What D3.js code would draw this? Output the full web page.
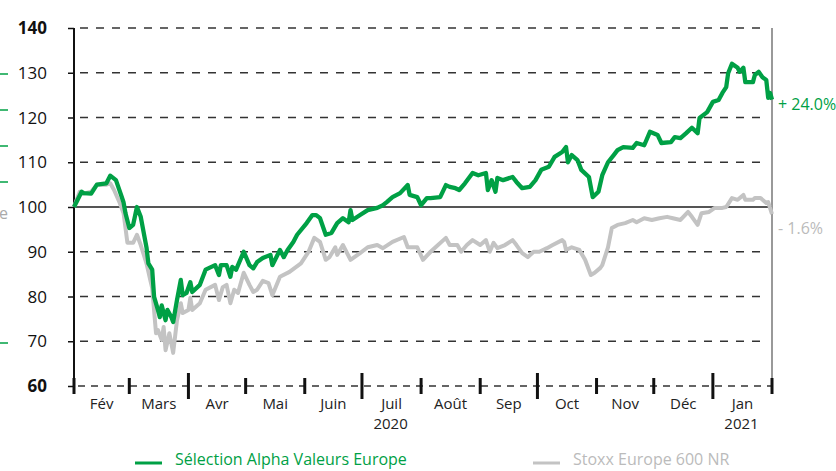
<!DOCTYPE html>
<html>
<head>
<meta charset="utf-8">
<script src="https://cdn.jsdelivr.net/npm/d3@7"></script>
<style>
  body { margin: 0; background: #fff; }
  svg { display: block; font-family: "Open Sans", sans-serif; }
</style>
</head>
<body>
<svg id="chart" width="836" height="471"></svg>
<script>
// Sélection Alpha Valeurs Europe, base 100
var selection = [
  ["2020-02-01",100],["2020-02-05",103.4],["2020-02-06",103.1],["2020-02-10",103],["2020-02-13",105],
  ["2020-02-18",105.3],["2020-02-20",107],["2020-02-23",106],["2020-02-26",102.3],["2020-02-27",101],
  ["2020-02-28",98.6],["2020-03-01",95.3],["2020-03-03",96],["2020-03-05",100],["2020-03-07",97.8],
  ["2020-03-10",91],["2020-03-11",87.4],["2020-03-13",86],["2020-03-14",79.9],["2020-03-16",77],
  ["2020-03-17",75.4],["2020-03-18",78],["2020-03-20",74.7],["2020-03-21",77],["2020-03-23",75.4],
  ["2020-03-24",74.3],["2020-03-26",79.2],["2020-03-28",83.7],["2020-03-29",80.3],["2020-03-31",80.8],
  ["2020-04-02",83.2],["2020-04-03",81],["2020-04-07",82.6],["2020-04-10",86],["2020-04-15",87],
  ["2020-04-17",84.8],["2020-04-18",87],["2020-04-21",87],["2020-04-23",84.4],["2020-04-24",86.6],
  ["2020-04-26",86],["2020-04-30",90],["2020-05-03",87],["2020-05-05",86.3],["2020-05-07",87.7],
  ["2020-05-10",88.6],["2020-05-14",89.3],["2020-05-15",87],["2020-05-19",90.4],["2020-05-21",88.8],
  ["2020-05-23",90.4],["2020-05-26",92.2],["2020-05-28",93.8],["2020-06-02",96.4],["2020-06-05",98.2],
  ["2020-06-07",98.2],["2020-06-09",97.5],["2020-06-12",93.8],["2020-06-15",94.2],["2020-06-18",96.4],
  ["2020-06-21",97.5],["2020-06-24",96.6],["2020-06-25",99.3],["2020-06-26",97.1],["2020-06-30",98.2],
  ["2020-07-04",99.3],["2020-07-09",99.8],["2020-07-12",100.4],["2020-07-14",101.1],["2020-07-17",102.2],
  ["2020-07-21",103.1],["2020-07-25",104.9],["2020-07-26",102.7],["2020-07-30",102.2],["2020-08-01",100.4],
  ["2020-08-04",102],["2020-08-06",102],["2020-08-11",102.2],["2020-08-14",104.9],["2020-08-16",104.5],
  ["2020-08-19",104.2],["2020-08-21",103.8],["2020-08-24",105.3],["2020-08-28",107.6],["2020-08-31",107.1],
  ["2020-09-04",107.6],["2020-09-05",103.8],["2020-09-07",106],["2020-09-09",103.4],["2020-09-10",106.5],
  ["2020-09-13",106],["2020-09-18",106.7],["2020-09-20",105.6],["2020-09-23",104.2],["2020-09-27",104.5],
  ["2020-09-30",106],["2020-10-03",108.3],["2020-10-07",109],["2020-10-10",111.2],["2020-10-14",112.3],
  ["2020-10-16",113.4],["2020-10-17",110],["2020-10-19",111.6],["2020-10-22",110.5],["2020-10-24",108.3],
  ["2020-10-28",106.7],["2020-10-30",102.2],["2020-11-02",103.4],["2020-11-04",107.1],["2020-11-07",110],
  ["2020-11-10",111.6],["2020-11-12",112.7],["2020-11-15",113.4],["2020-11-20",113.2],["2020-11-22",114.3],
  ["2020-11-26",113.8],["2020-11-29",116.8],["2020-12-03",116.1],["2020-12-05",114.3],["2020-12-10",114.5],
  ["2020-12-12",115.6],["2020-12-15",115.4],["2020-12-18",116.5],["2020-12-21",117.7],["2020-12-24",116.5],
  ["2020-12-25",119.9],["2020-12-29",121.2],["2021-01-01",123.5],["2021-01-04",123.9],["2021-01-06",125.5],
  ["2021-01-08",126.8],["2021-01-09",129.9],["2021-01-11",132],["2021-01-14",131.1],["2021-01-15",130.2],
  ["2021-01-17",131.1],["2021-01-18",127.9],["2021-01-22",127.9],["2021-01-23",129.5],["2021-01-25",130.2],
  ["2021-01-27",129],["2021-01-29",128.4],["2021-01-30",124.4],["2021-01-31",125.5],["2021-02-01",124.0]
];

// Stoxx Europe 600 NR, base 100
var stoxx = [
  ["2020-02-01",100],["2020-02-04",103.4],["2020-02-06",103],["2020-02-10",103.4],["2020-02-13",105],
  ["2020-02-18",105],["2020-02-20",105.3],["2020-02-22",103.8],["2020-02-25",100.9],["2020-02-27",98.6],
  ["2020-02-29",92],["2020-03-03",92],["2020-03-05",93.8],["2020-03-07",91.5],["2020-03-10",87.4],
  ["2020-03-12",83.7],["2020-03-13",81.9],["2020-03-15",71.8],["2020-03-16",72.5],["2020-03-18",70.3],
  ["2020-03-19",73.2],["2020-03-20",68],["2020-03-22",71.8],["2020-03-24",67.4],["2020-03-26",74.7],
  ["2020-03-28",78.5],["2020-03-29",76.3],["2020-04-01",77],["2020-04-02",79.7],["2020-04-03",77],
  ["2020-04-07",78.5],["2020-04-10",81.5],["2020-04-15",82.6],["2020-04-17",79.2],["2020-04-19",82.1],
  ["2020-04-21",82.6],["2020-04-23",78.5],["2020-04-25",81.5],["2020-04-27",80.8],["2020-04-30",85.3],
  ["2020-05-03",82.6],["2020-05-05",81],["2020-05-07",81.5],["2020-05-10",83.5],["2020-05-13",83],
  ["2020-05-15",80.3],["2020-05-19",84.4],["2020-05-24",85.5],["2020-05-30",87.4],["2020-06-03",90],
  ["2020-06-06",93.1],["2020-06-09",92.2],["2020-06-12",88.2],["2020-06-14",88.8],["2020-06-17",91],
  ["2020-06-18",89.3],["2020-06-21",91.5],["2020-06-25",88.2],["2020-06-30",89.7],["2020-07-04",91],
  ["2020-07-09",91.5],["2020-07-12",90.8],["2020-07-17",92.2],["2020-07-23",93.3],["2020-07-25",91],
  ["2020-07-30",91],["2020-08-02",88.2],["2020-08-06",90],["2020-08-08",90.8],["2020-08-14",93.1],
  ["2020-08-16",91.5],["2020-08-20",91.5],["2020-08-22",90],["2020-08-25",91.5],["2020-08-28",92.6],
  ["2020-09-01",91.5],["2020-09-04",92.6],["2020-09-06",90],["2020-09-08",92],["2020-09-10",90.8],
  ["2020-09-14",91.5],["2020-09-18",92.6],["2020-09-20",91.5],["2020-09-23",89.7],["2020-09-26",88.8],
  ["2020-09-29",90],["2020-10-02",90],["2020-10-06",90.8],["2020-10-09",91.5],["2020-10-14",92.6],
  ["2020-10-15",92.2],["2020-10-16",90.4],["2020-10-19",91],["2020-10-23",90.4],["2020-10-26",88.2],
  ["2020-10-29",84.8],["2020-10-31",85.3],["2020-11-03",86.4],["2020-11-04",87],["2020-11-07",91],
  ["2020-11-09",95.3],["2020-11-12",96],["2020-11-16",96.4],["2020-11-20",97.1],["2020-11-22",96.6],
  ["2020-11-26",97.5],["2020-11-30",97.1],["2020-12-04",97.5],["2020-12-08",97.8],["2020-12-11",97.5],
  ["2020-12-15",97.1],["2020-12-19",98.9],["2020-12-21",97.8],["2020-12-24",96],["2020-12-26",98.6],
  ["2020-12-30",98.9],["2021-01-02",99.8],["2021-01-06",99.8],["2021-01-08",100],["2021-01-11",102],
  ["2021-01-14",101.6],["2021-01-17",102.7],["2021-01-18",101.6],["2021-01-22",101.6],["2021-01-23",102],
  ["2021-01-26",102],["2021-01-29",100.9],["2021-01-30",101.1],["2021-02-01",98.4]
];

var yTicks = [60, 70, 80, 90, 100, 110, 120, 130, 140];
var monthNames = ["Fév","Mars","Avr","Mai","Juin","Juil","Août","Sep","Oct","Nov","Déc","Jan"];
var yearLabels = [["2020-07-16","2020"],["2021-01-16","2021"]];
var seriesNames = ["Sélection Alpha Valeurs Europe", "Stoxx Europe 600 NR"];
var endLabels = ["+ 24.0%", "- 1.6%"];

var green = "#00a045", grey = "#c3c3c3";
var parse = d3.timeParse("%Y-%m-%d");

var svg = d3.select("#chart");
var x = d3.scaleTime().domain([parse("2020-02-01"), parse("2021-02-01")]).range([74, 772]);
var y = d3.scaleLinear().domain([60, 140]).range([386, 28]);

// dashed gridlines
svg.append("g").selectAll("line")
  .data(yTicks.filter(d => d != 100 && d != 60))
  .enter().append("line")
  .attr("x1", 74).attr("x2", 766)
  .attr("y1", d => y(d)).attr("y2", d => y(d))
  .attr("stroke", "#333").attr("stroke-width", 1.6)
  .attr("stroke-dasharray", "8,8").attr("stroke-dashoffset", -6);

// base 100 line
svg.append("line")
  .attr("x1", 74).attr("x2", 772).attr("y1", y(100)).attr("y2", y(100))
  .attr("stroke", "#555").attr("stroke-width", 2);

// right border
svg.append("line")
  .attr("x1", 772).attr("x2", 772).attr("y1", y(140)).attr("y2", y(60))
  .attr("stroke", "#777").attr("stroke-width", 1.5);

// left axis
var yAxis = d3.axisLeft(y).tickValues(yTicks).tickSize(6).tickFormat("");
var ya = svg.append("g").attr("transform", "translate(74,0)").call(yAxis);
ya.select(".domain").remove();
ya.selectAll(".tick line").attr("stroke", "#111").attr("stroke-width", 1.5);
svg.append("line").attr("x1", 74).attr("x2", 74).attr("y1", y(140)).attr("y2", 392)
  .attr("stroke", "#111").attr("stroke-width", 2);

svg.append("g").selectAll("text")
  .data(yTicks).enter().append("text")
  .attr("x", 47).attr("y", d => y(d)).attr("dy", "0.36em")
  .attr("text-anchor", "end")
  .attr("font-size", 17)
  .attr("font-weight", d => (d == 140 || d == 60) ? "bold" : "normal")
  .attr("fill", "#111")
  .text(d => d);

// bottom axis: dashed baseline + month ticks
svg.append("line")
  .attr("x1", 74).attr("x2", 772).attr("y1", y(60)).attr("y2", y(60))
  .attr("stroke", "#333").attr("stroke-width", 1.6)
  .attr("stroke-dasharray", "7,6").attr("stroke-dashoffset", -4);

var months = d3.timeMonth.range(parse("2020-02-01"), parse("2021-02-02"));
svg.append("g").selectAll("line")
  .data(months).enter().append("line")
  .attr("x1", d => x(d)).attr("x2", d => x(d))
  .attr("y1", d => [3, 6, 9, 0].indexOf(d.getMonth()) >= 0 && d.getFullYear() + d.getMonth() != 2020 ? 373 : 378)
  .attr("y2", d => [3, 6, 9, 0].indexOf(d.getMonth()) >= 0 ? 399 : 394)
  .attr("stroke", "#111").attr("stroke-width", 3);

svg.append("g").selectAll("text")
  .data(months.slice(0, 12)).enter().append("text")
  .attr("x", (d, i) => (x(d) + x(months[i + 1])) / 2)
  .attr("y", 409)
  .attr("text-anchor", "middle").attr("font-size", 15).attr("fill", "#222")
  .text((d, i) => monthNames[i]);

svg.append("g").selectAll("text")
  .data(yearLabels).enter().append("text")
  .attr("x", d => x(parse(d[0])))
  .attr("y", 429)
  .attr("text-anchor", "middle").attr("font-size", 15).attr("fill", "#222")
  .text(d => d[1]);

// series
var line = d3.line().x(d => x(parse(d[0]))).y(d => y(d[1]));
svg.append("path").datum(stoxx)
  .attr("d", line).attr("fill", "none")
  .attr("stroke", grey).attr("stroke-width", 4).attr("stroke-linejoin", "round");
svg.append("path").datum(selection)
  .attr("d", line).attr("fill", "none")
  .attr("stroke", green).attr("stroke-width", 4.3).attr("stroke-linejoin", "round");

// end labels
svg.append("text").attr("x", 778).attr("y", y(selection[selection.length - 1][1]) + 5)
  .attr("dy", "0.36em").attr("font-size", 16).attr("fill", green).text(endLabels[0]);
svg.append("text").attr("x", 778).attr("y", y(stoxx[stoxx.length - 1][1]) + 14)
  .attr("dy", "0.36em").attr("font-size", 16).attr("fill", "#bbb").text(endLabels[1]);

// legend
var legend = svg.append("g");
legend.append("line").attr("x1", 135).attr("x2", 162).attr("y1", 463).attr("y2", 463)
  .attr("stroke", green).attr("stroke-width", 3);
legend.append("text").attr("x", 175).attr("y", 465).attr("font-size", 16)
  .attr("fill", green).text(seriesNames[0]);
legend.append("line").attr("x1", 533).attr("x2", 560).attr("y1", 463).attr("y2", 463)
  .attr("stroke", grey).attr("stroke-width", 3);
legend.append("text").attr("x", 573).attr("y", 465).attr("font-size", 16)
  .attr("fill", "#bbb").text(seriesNames[1]);

// clipped remnants at the left edge
svg.append("g").selectAll("line")
  .data([74, 110, 146, 182, 343]).enter().append("line")
  .attr("x1", 0).attr("x2", 8).attr("y1", d => d).attr("y2", d => d)
  .attr("stroke", green).attr("stroke-width", 1.5);
svg.append("text").attr("x", -1).attr("y", 219).attr("font-size", 16)
  .attr("fill", "#aaa").text("e");
</script>
</body>
</html>
